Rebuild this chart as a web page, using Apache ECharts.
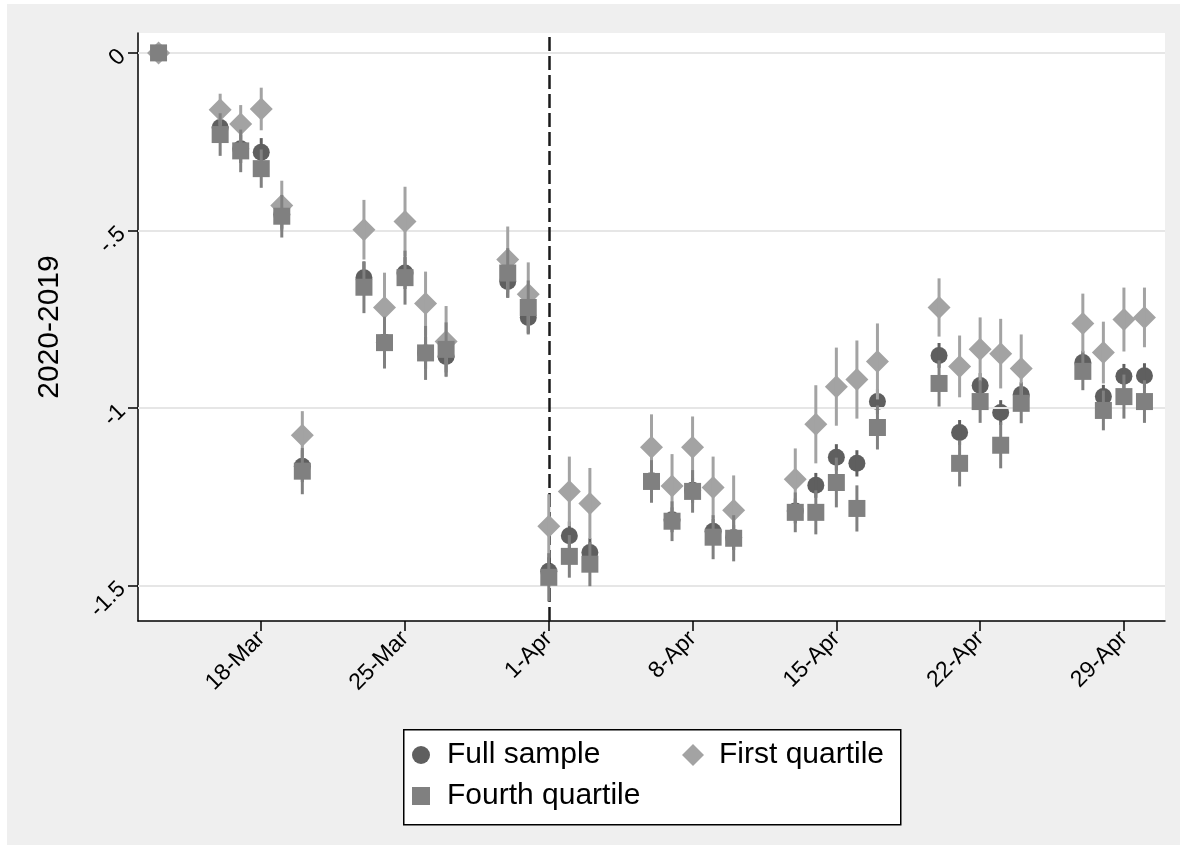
<!DOCTYPE html>
<html><head><meta charset="utf-8">
<script src="https://cdn.jsdelivr.net/npm/echarts@6/dist/echarts.min.js"></script>
<style>
html,body{margin:0;padding:0;background:#fff;}
#c{position:absolute;left:7px;top:4px;width:1173px;height:841px;}
</style>
</head><body><div id="c"></div>
<script>
const dates = ['13-Mar','16-Mar','17-Mar','18-Mar','19-Mar','20-Mar','23-Mar','24-Mar','25-Mar','26-Mar','27-Mar',
  '30-Mar','31-Mar','1-Apr','2-Apr','3-Apr','6-Apr','7-Apr','8-Apr','9-Apr','10-Apr',
  '13-Apr','14-Apr','15-Apr','16-Apr','17-Apr','20-Apr','21-Apr','22-Apr','23-Apr','24-Apr',
  '27-Apr','28-Apr','29-Apr','30-Apr'];
const fullSample = [0,-0.21,-0.27,-0.28,-0.455,-1.164,-0.633,-0.815,-0.62,-0.845,-0.855,
  -0.644,-0.745,-1.46,-1.36,-1.407,-1.205,-1.315,-1.232,-1.347,-1.365,
  -1.29,-1.218,-1.139,-1.156,-0.982,-0.852,-1.069,-0.937,-1.013,-0.962,
  -0.872,-0.968,-0.911,-0.909];
const firstQuartile = [0,-0.16,-0.20,-0.158,-0.43,-1.077,-0.498,-0.717,-0.475,-0.706,-0.813,
  -0.582,-0.68,-1.333,-1.235,-1.269,-1.111,-1.22,-1.111,-1.224,-1.288,
  -1.201,-1.046,-0.94,-0.92,-0.869,-0.717,-0.883,-0.835,-0.847,-0.889,
  -0.762,-0.844,-0.751,-0.745];
const fourthQuartile = [0,-0.23,-0.276,-0.326,-0.46,-1.178,-0.66,-0.816,-0.633,-0.845,-0.835,
  -0.62,-0.717,-1.477,-1.418,-1.44,-1.207,-1.319,-1.235,-1.364,-1.367,
  -1.294,-1.294,-1.21,-1.283,-1.055,-0.931,-1.156,-0.982,-1.105,-0.987,
  -0.897,-1.007,-0.968,-0.982];
const fullHalfCI = [0,0.04,0.04,0.04,0.04,0.045,0.045,0.045,0.045,0.045,0.045,
  0.045,0.045,0.04,0.04,0.04,0.035,0.035,0.035,0.035,0.035,
  0.035,0.035,0.037,0.037,0.035,0.035,0.035,0.035,0.035,0.035,
  0.033,0.033,0.035,0.035];
const firstHalfCI = [0,0.045,0.053,0.06,0.07,0.068,0.084,0.098,0.098,0.09,0.1,
  0.093,0.09,0.09,0.098,0.1,0.093,0.09,0.087,0.087,0.098,
  0.087,0.11,0.11,0.11,0.107,0.082,0.087,0.09,0.098,0.096,
  0.084,0.087,0.09,0.084];
const fourthHalfCI = [0,0.06,0.06,0.054,0.06,0.065,0.073,0.073,0.076,0.076,0.076,
  0.07,0.076,0.068,0.06,0.062,0.06,0.056,0.06,0.062,0.065,
  0.056,0.062,0.07,0.065,0.062,0.065,0.065,0.06,0.065,0.056,
  0.053,0.056,0.062,0.06];
const xTickLabels = ['18-Mar','25-Mar','1-Apr','8-Apr','15-Apr','22-Apr','29-Apr'];
const yTicks = [0,-0.5,-1,-1.5];
const yTickLabels = ['0','-.5','-1','-1.5'];
const eventDate = '1-Apr';
const seriesNames = ['Full sample','First quartile','Fourth quartile'];

// day number counted from 4-Mar (so weekly ticks fall on multiples of 7)
function dayNum(s){ const p = s.split('-'); return (p[1]==='Mar'?0:31) + (+p[0]) - 4; }
const xTickValues = xTickLabels.map(dayNum);

const FONT = 'Liberation Sans, Arial, sans-serif';
const C_FULL = '#5f5f5f', C_FIRST = '#a3a3a3', C_FOURTH = '#808080';

function pts(vals){ return dates.map((d,i)=>[dayNum(d), vals[i]]); }
function ci(vals, half){ return dates.map((d,i)=>[dayNum(d), vals[i]-half[i], vals[i]+half[i]]); }
function ciSeries(vals, half, color, z){
  return {
    type:'custom', z:z, silent:true,
    data: ci(vals, half),
    encode:{x:0, y:[1,2]},
    renderItem:(params, api)=>{
      const x = api.value(0);
      const p1 = api.coord([x, api.value(1)]);
      const p2 = api.coord([x, api.value(2)]);
      return {type:'line', shape:{x1:p1[0],y1:p1[1],x2:p2[0],y2:p2[1]},
              style:{stroke:color, lineWidth:3}};
    }
  };
}

const chart = echarts.init(document.getElementById('c'), null, {renderer:'canvas'});
chart.setOption({
  animation:false,
  backgroundColor:'#efefef',
  textStyle:{fontFamily:FONT},
  grid:{left:131, top:29, right:15, bottom:224, show:true, backgroundColor:'#ffffff', borderWidth:0},
  xAxis:{
    type:'value', min:8, max:58,
    axisLine:{show:true, onZero:false, lineStyle:{color:'#000', width:1.5}},
    axisTick:{show:true, customValues:xTickValues, length:10, lineStyle:{color:'#000', width:1.5}},
    axisLabel:{customValues:xTickValues, rotate:45, fontSize:23, margin:14, color:'#000', fontFamily:FONT,
      formatter:(v)=>{ const i = xTickValues.indexOf(v); return i>=0 ? xTickLabels[i] : ''; }},
    splitLine:{show:false}
  },
  yAxis:{
    type:'value', min:-1.6, max:0.056,
    name:'2020-2019', nameLocation:'middle', nameGap:73, nameRotate:90,
    nameTextStyle:{fontSize:30, color:'#000', fontFamily:FONT},
    axisLine:{show:true, onZero:false, lineStyle:{color:'#000', width:1.5}},
    axisTick:{show:true, customValues:yTicks, length:10, lineStyle:{color:'#000', width:1.5}},
    axisLabel:{customValues:yTicks, rotate:45, fontSize:23, margin:16, color:'#000', fontFamily:FONT,
      formatter:(v)=>{ const i = yTicks.findIndex(t=>Math.abs(t-v)<1e-9); return i>=0 ? yTickLabels[i] : ''; }},
    splitLine:{show:false}
  },
  legend:[
    {data:[seriesNames[0], seriesNames[2]], orient:'vertical', left:405, top:730, padding:0,
     itemWidth:18, itemHeight:18, itemGap:-1,
     textStyle:{fontSize:30, color:'#000', fontFamily:FONT, lineHeight:32, padding:[0,0,10,12]}},
    {data:[seriesNames[1]], orient:'vertical', left:675, top:730, padding:0,
     itemWidth:22, itemHeight:22, itemGap:-1,
     textStyle:{fontSize:30, color:'#000', fontFamily:FONT, lineHeight:32, padding:[0,0,10,10]}}
  ],
  graphic:[{type:'rect', left:396, top:725, z:0,
    shape:{width:497, height:95}, style:{fill:'#fff', stroke:'#000', lineWidth:1.5}}],
  series:[
    {type:'line', data:[[dayNum(dates[0]), 0]], showSymbol:false, symbol:'none', z:1, silent:true,
     lineStyle:{opacity:0},
     markLine:{silent:true, symbol:['none','none'], label:{show:false}, animation:false,
       lineStyle:{color:'#e6e6e6', width:2, type:'solid'},
       data: yTicks.map(v=>({yAxis:v})).concat([{xAxis:dayNum(eventDate),
         lineStyle:{color:'#1a1a1a', width:2.5, type:[14,5]}}])}},
    {name:seriesNames[0], type:'scatter', z:3, symbol:'circle', symbolSize:17,
     itemStyle:{color:C_FULL, opacity:1}, data:pts(fullSample)},
    ciSeries(fullSample, fullHalfCI, C_FULL, 4),
    {name:seriesNames[1], type:'scatter', z:5, symbol:'diamond', symbolSize:23,
     itemStyle:{color:C_FIRST, opacity:1}, data:pts(firstQuartile)},
    ciSeries(firstQuartile, firstHalfCI, C_FIRST, 6),
    {name:seriesNames[2], type:'scatter', z:7, symbol:'rect', symbolSize:17,
     itemStyle:{color:C_FOURTH, opacity:1}, data:pts(fourthQuartile)},
    ciSeries(fourthQuartile, fourthHalfCI, C_FOURTH, 8)
  ]
});
</script></body></html>
